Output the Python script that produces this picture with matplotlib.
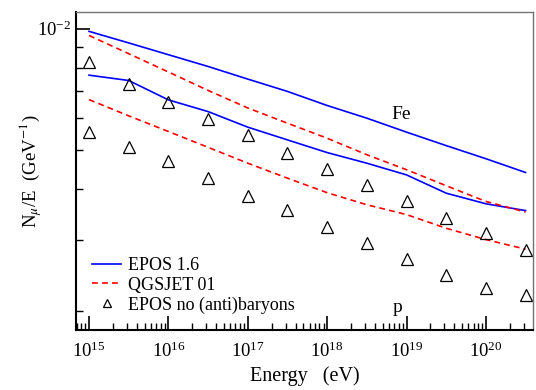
import numpy as np
import matplotlib
matplotlib.use('Agg')
import matplotlib.pyplot as plt
from matplotlib.ticker import LogLocator, NullFormatter

plt.rcParams['font.family'] = ['Liberation Serif', 'DejaVu Serif']
plt.rcParams['mathtext.fontset'] = 'stix'

# energies in eV (half-decade steps)
energy = [1e15, 3.16e15, 1e16, 3.16e16, 1e17, 3.16e17, 1e18, 3.16e18,
          1e19, 3.16e19, 1e20, 3.16e20]

# N_mu/E values (GeV^-1)
epos_fe = [9.85e-3, 9.22e-3, 8.62e-3, 8.06e-3, 7.50e-3, 6.99e-3, 6.45e-3, 6.00e-3,
           5.54e-3, 5.13e-3, 4.76e-3, 4.40e-3]
epos_p = [7.67e-3, 7.44e-3, 6.66e-3, 6.23e-3, 5.70e-3, 5.30e-3, 4.93e-3, 4.64e-3,
          4.34e-3, 3.91e-3, 3.68e-3, 3.54e-3]
qgs_fe = [9.62e-3, 8.67e-3, 7.81e-3, 7.03e-3, 6.36e-3, 5.83e-3, 5.35e-3, 4.87e-3,
          4.47e-3, 4.08e-3, 3.73e-3, 3.51e-3]
qgs_p = [6.67e-3, 6.08e-3, 5.56e-3, 5.08e-3, 4.64e-3, 4.26e-3, 3.92e-3, 3.66e-3,
         3.46e-3, 3.20e-3, 3.00e-3, 2.84e-3]
nobar_fe = [8.27e-3, 7.30e-3, 6.59e-3, 5.97e-3, 5.44e-3, 4.92e-3, 4.49e-3, 4.10e-3,
            3.73e-3, 3.40e-3, 3.12e-3, 2.83e-3]
nobar_p = [5.55e-3, 5.10e-3, 4.69e-3, 4.26e-3, 3.85e-3, 3.56e-3, 3.22e-3, 2.95e-3,
           2.69e-3, 2.45e-3, 2.28e-3, 2.19e-3]

fig = plt.figure(figsize=(5.36, 3.90), dpi=100)
ax = fig.add_axes([0.1418, 0.1538, 0.8526, 0.8154])

ax.plot(energy, epos_fe, color='#0000ff', lw=1.2, label='EPOS 1.6')
ax.plot(energy, epos_p, color='#0000ff', lw=1.2)
ax.plot(energy, qgs_fe, color='#ff0000', lw=1.2, dashes=(3.5, 2.5), label='QGSJET 01')
ax.plot(energy, qgs_p, color='#ff0000', lw=1.2, dashes=(3.5, 2.5))
ax.plot(energy, nobar_fe, ls='none', marker='^', ms=9, mfc='none', mec='black', mew=0.9,
        label='EPOS no (anti)baryons')
ax.plot(energy, nobar_p, ls='none', marker='^', ms=9, mfc='none', mec='black', mew=0.9)

ax.set_xscale('log')
ax.set_yscale('log')
ax.set_xlim(6.85e14, 3.92e20)
ax.set_ylim(1.79e-3, 1.10e-2)

ax.xaxis.set_major_locator(LogLocator(base=10, numticks=20))
ax.xaxis.set_minor_locator(LogLocator(base=10, subs=np.arange(2, 10), numticks=20))
ax.yaxis.set_major_locator(LogLocator(base=10, numticks=20))
ax.yaxis.set_minor_locator(LogLocator(base=10, subs=np.arange(2, 10), numticks=20))
ax.yaxis.set_minor_formatter(NullFormatter())
ax.xaxis.set_minor_formatter(NullFormatter())

ax.tick_params(which='both', direction='in', top=False, right=False, labelsize=13.5)
ax.tick_params(which='major', length=10, width=1.2)
ax.tick_params(which='minor', length=5, width=1.0)
ax.tick_params(axis='x', pad=8)

for s in ['left', 'bottom']:
    ax.spines[s].set_linewidth(1.5)
for s in ['top', 'right']:
    ax.spines[s].set_linewidth(1.0)
    ax.spines[s].set_color('0.45')

ax.set_xlabel('Energy   (eV)', fontsize=14.5, labelpad=4)
ax.set_ylabel(r'N$_\mu$/E  (GeV$^{-1}$)', fontsize=13.5)
ax.yaxis.set_label_coords(-0.07, 0.5)

ax.text(8.6e18, 6.12e-3, 'Fe', fontsize=14, ha='center', va='center')
ax.text(7.66e18, 2.03e-3, 'p', fontsize=14, ha='center', va='center')

ax.legend(loc='lower left', bbox_to_anchor=(0.0, 0.0), frameon=False, fontsize=13,
          handlelength=1.6, handletextpad=0.4, labelspacing=0.15, markerscale=0.65)

fig.savefig('out.png', dpi=100)
